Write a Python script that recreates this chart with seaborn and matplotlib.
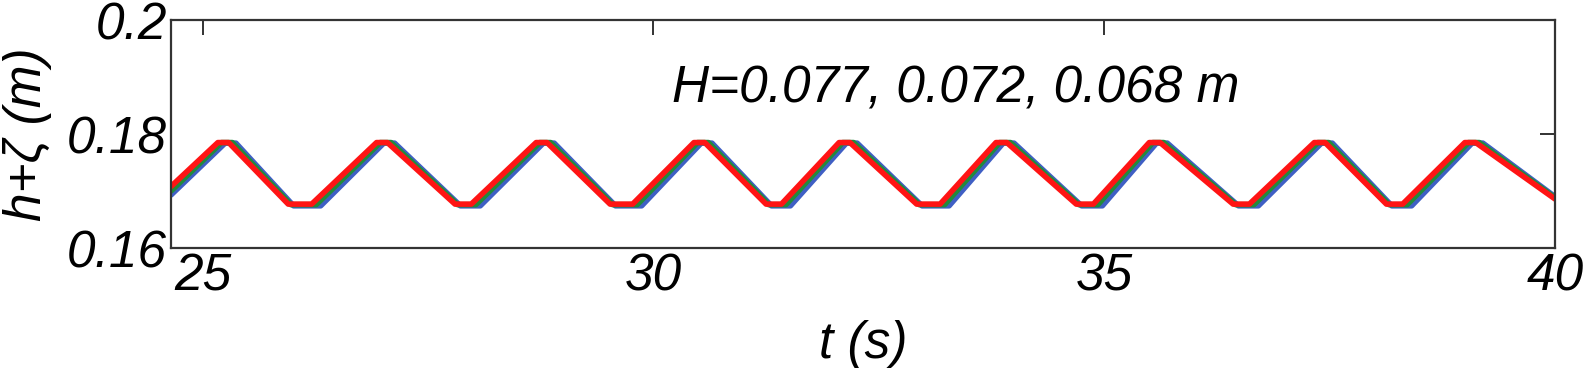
import matplotlib
matplotlib.use("Agg")
import matplotlib.pyplot as plt
import seaborn as sns
import pandas as pd

# ---- data (key vertices of each wave record) ----
t_start = 24.65
t_end = 40.0
peak_level = {"red": 0.1785, "green": 0.1785, "blue": 0.1784}
trough_level = {"red": 0.1677, "green": 0.1676, "blue": 0.1674}
start_value = {"red": 0.1708, "green": 0.1700, "blue": 0.1693}
end_value = {"red": 0.1686, "green": 0.1688, "blue": 0.1690}

red_crest_start = [25.17, 26.93, 28.70, 30.45, 32.06, 33.80, 35.50, 37.33, 39.00]
red_crest_end = [25.29, 27.05, 28.82, 30.57, 32.18, 33.92, 35.62, 37.45, 39.12]
red_trough_start = [25.95, 27.80, 29.52, 31.25, 32.92, 34.69, 36.43, 38.13]
red_trough_end = [26.21, 27.98, 29.77, 31.42, 33.18, 34.88, 36.61, 38.31]

green_crest_start = [25.21, 26.97, 28.74, 30.49, 32.10, 33.84, 35.54, 37.37, 39.04]
green_crest_end = [25.33, 27.09, 28.86, 30.61, 32.22, 33.96, 35.66, 37.49, 39.16]
green_trough_start = [25.98, 27.83, 29.55, 31.28, 32.95, 34.72, 36.46, 38.16]
green_trough_end = [26.26, 28.03, 29.82, 31.47, 33.23, 34.93, 36.66, 38.36]

blue_crest_start = [25.25, 27.01, 28.78, 30.53, 32.14, 33.88, 35.58, 37.41, 39.08]
blue_crest_end = [25.37, 27.13, 28.90, 30.65, 32.26, 34.00, 35.70, 37.53, 39.20]
blue_trough_start = [26.01, 27.86, 29.58, 31.31, 32.98, 34.75, 36.49, 38.19]
blue_trough_end = [26.31, 28.08, 29.87, 31.52, 33.28, 34.98, 36.71, 38.41]

series = {
    "blue": (blue_crest_start, blue_crest_end, blue_trough_start, blue_trough_end),
    "green": (green_crest_start, green_crest_end, green_trough_start, green_trough_end),
    "red": (red_crest_start, red_crest_end, red_trough_start, red_trough_end),
}
colors = {"blue": "#3F5FC4", "green": "#228B3C", "red": "#FF1414"}

rows = []
for name, (cs, ce, ts, te) in series.items():
    ts_list = [(t_start, start_value[name])]
    for i in range(len(cs)):
        ts_list.append((cs[i], peak_level[name]))
        ts_list.append((ce[i], peak_level[name]))
        if i < len(ts):
            ts_list.append((ts[i], trough_level[name]))
            ts_list.append((te[i], trough_level[name]))
    ts_list.append((t_end, end_value[name]))
    for k, (tt, hh) in enumerate(ts_list):
        rows.append({"series": name, "order": k, "t": tt, "h": hh})
df = pd.DataFrame(rows)

sns.set_style("white")
plt.rcParams["font.family"] = ["Liberation Sans", "DejaVu Sans"]
plt.rcParams["font.style"] = "italic"
plt.rcParams["text.color"] = "black"
plt.rcParams["axes.labelcolor"] = "black"
plt.rcParams["xtick.color"] = "black"
plt.rcParams["ytick.color"] = "black"

FS = 37

fig = plt.figure(figsize=(15.84, 3.68), dpi=100)
ax = fig.add_axes([171 / 1584, 1 - 248 / 368, (1555 - 171) / 1584, 228 / 368])

for name in ["blue", "green", "red"]:
    sub = df[df["series"] == name]
    sns.lineplot(data=sub, x="t", y="h", sort=False, estimator=None,
                 color=colors[name], linewidth=4.0, ax=ax, legend=False,
                 solid_joinstyle="round", solid_capstyle="round")

ax.set_xlim(t_start, t_end)
ax.set_ylim(0.16, 0.2)
ax.set_xticks([25, 30, 35, 40])
ax.set_xticklabels(["25", "30", "35", "40"])
ax.set_yticks([0.16, 0.18, 0.2])
ax.set_yticklabels(["0.16", "0.18", "0.2"])
ax.tick_params(direction="in", length=11, width=1.3, top=True, right=True,
               labelsize=FS, pad=3, colors="#222222", labelcolor="black")
for lab in ax.get_xticklabels() + ax.get_yticklabels():
    lab.set_fontstyle("italic")
for sp in ax.spines.values():
    sp.set_visible(True)
    sp.set_color("#333333")
    sp.set_linewidth(1.6)

ax.set_xlabel("t (s)", fontsize=FS, fontstyle="italic")
ax.set_ylabel("h+ζ (m)", fontsize=FS, fontstyle="italic")
ax.xaxis.set_label_coords(0.5, -(320 - 248) / 228)
ax.yaxis.set_label_coords((52 - 171) / 1384, 0.5)

ax.text(33.35, 0.1879, "H=0.077, 0.072, 0.068 m", fontsize=FS,
        fontstyle="italic", ha="center", va="center")

fig.savefig("out.png", dpi=100)
